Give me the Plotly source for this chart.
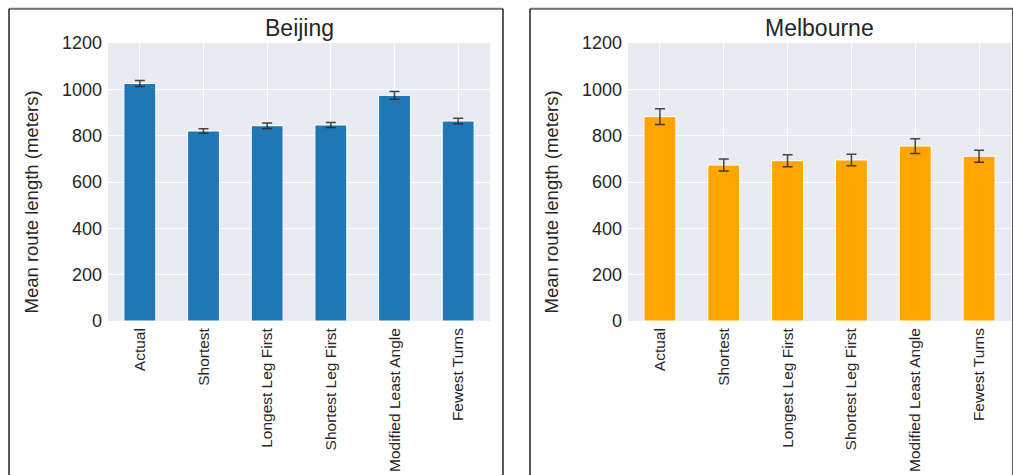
import plotly.graph_objects as go

categories = ["Actual", "Shortest", "Longest Leg First", "Shortest Leg First",
              "Modified Least Angle", "Fewest Turns"]
beijing_mean = [1025, 820, 843, 846, 974, 863]
beijing_err = [13, 10, 12, 11, 17, 12]
melbourne_mean = [882, 673, 692, 695, 755, 711]
melbourne_err = [34, 26, 26, 25, 32, 26]
y_ticks = [0, 200, 400, 600, 800, 1000, 1200]

W, H = 1013, 475
TXT = "#262626"
REG = "Liberation Sans, Arial, sans-serif"

def px_x(p):
    return p / W

def px_y(p):
    return 1 - p / H

fig = go.Figure()

panels = [
    ("x", "y", beijing_mean, beijing_err, "#1f77b4", (108, 490), "Beijing", 31.5, 9, 503),
    ("x2", "y2", melbourne_mean, melbourne_err, "#ffa500", (628, 1011), "Melbourne", 551.5, 530, 1013),
]

for xa, ya, mean, err, col, (l, r), title, ytx, bl, br in panels:
    fig.add_trace(go.Bar(
        x=categories, y=mean, xaxis=xa, yaxis=ya, width=0.5,
        marker=dict(color=col, line=dict(color="white", width=1)),
        error_y=dict(type="data", array=err, visible=True,
                     color="rgba(40,40,40,0.85)", thickness=1.5, width=5),
        showlegend=False,
    ))
    fig.add_annotation(x=px_x((l + r) / 2), y=px_y(28), xref="paper", yref="paper",
                       text=title, showarrow=False, xanchor="center", yanchor="middle",
                       font=dict(family=REG, size=23, color=TXT))
    fig.add_annotation(x=px_x(ytx), y=px_y(202), xref="paper", yref="paper",
                       text="Mean route length (meters)", showarrow=False, textangle=-90,
                       xanchor="center", yanchor="middle",
                       font=dict(family=REG, size=18.5, color=TXT))
    # panel border
    fig.add_shape(type="line", xref="paper", yref="paper",
                  x0=px_x(bl), x1=px_x(br), y0=px_y(8.7), y1=px_y(8.7),
                  line=dict(color="#6e6e6e", width=2))
    fig.add_shape(type="line", xref="paper", yref="paper",
                  x0=px_x(bl), x1=px_x(bl), y0=px_y(8.7), y1=-0.05,
                  line=dict(color="#222222", width=1.5))
    fig.add_shape(type="line", xref="paper", yref="paper",
                  x0=px_x(br), x1=px_x(br), y0=px_y(8.7), y1=-0.05,
                  line=dict(color="#222222", width=1.5))

xcommon = dict(type="category", range=[-0.5, 5.5], showgrid=True, gridcolor="white",
               gridwidth=1, zeroline=False, showline=False, ticks="", tickangle=-90,
               automargin=False,
               tickfont=dict(family=REG, size=15.5, color=TXT), ticklabelstandoff=3)
ycommon = dict(range=[0, 1200], tickvals=y_ticks, showgrid=True, gridcolor="white",
               gridwidth=1, zeroline=False, showline=False, ticks="", automargin=False,
               tickfont=dict(family=REG, size=18, color=TXT), ticklabelstandoff=5)

ydom = [px_y(321), px_y(43)]
fig.update_layout(
    template="none",
    width=W, height=H, margin=dict(l=0, r=0, t=0, b=0, pad=0),
    paper_bgcolor="white", plot_bgcolor="#eaeaf2",
    xaxis=dict(domain=[px_x(108), px_x(490)], anchor="y", **xcommon),
    yaxis=dict(domain=ydom, anchor="x", **ycommon),
    xaxis2=dict(domain=[px_x(628), px_x(1011)], anchor="y2", **xcommon),
    yaxis2=dict(domain=ydom, anchor="x2", **ycommon),
    bargap=0.5,
)

fig.write_html("out.html")
